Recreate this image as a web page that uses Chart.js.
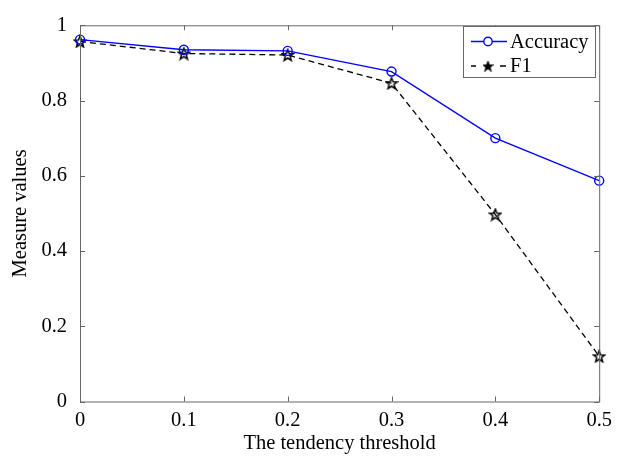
<!DOCTYPE html>
<html>
<head>
<meta charset="utf-8">
<script src="https://cdn.jsdelivr.net/npm/chart.js@4"></script>
<style>
  html, body { margin: 0; padding: 0; background: #fff; }
  #wrap { width: 619px; height: 456px; }
</style>
</head>
<body>
<div id="wrap"><canvas id="myChart"></canvas></div>
<script>
'use strict';

const thresholds = [0, 0.1, 0.2, 0.3, 0.4, 0.5];
const accuracy = [0.962, 0.935, 0.932, 0.877, 0.700, 0.587];
const f1 = [0.957, 0.925, 0.921, 0.846, 0.497, 0.120];
const xTicks = [0, 0.1, 0.2, 0.3, 0.4, 0.5];
const yTicks = [0, 0.2, 0.4, 0.6, 0.8, 1];

const FONT = '"Liberation Serif", "Times New Roman", serif';
const FONT_SIZE = 20.5;
const AXIS_COLOR = '#666';

// pentagram marker, outlined or filled
const makeStar = (size, filled) => {
  const c = document.createElement('canvas');
  c.width = size; c.height = size;
  const g = c.getContext('2d');
  const cx = size / 2, cy = size / 2 + 0.5;
  const R = size / 2 - 1, r = R * 0.42;
  g.beginPath();
  for (let i = 0; i < 10; i++) {
    const rad = i % 2 === 0 ? R : r;
    const a = -Math.PI / 2 + i * Math.PI / 5;
    const px = cx + rad * Math.cos(a), py = cy + rad * Math.sin(a);
    if (i === 0) g.moveTo(px, py); else g.lineTo(px, py);
  }
  g.closePath();
  g.lineWidth = 1.5;
  g.strokeStyle = '#000';
  if (filled) { g.fillStyle = '#000'; g.fill(); }
  g.stroke();
  return c;
};
const starMarker = makeStar(14, false);
const starLegend = makeStar(11, true);

const data = {
  datasets: [{
    label: 'Accuracy',
    data: thresholds.map((t, i) => ({ x: t, y: accuracy[i] })),
    borderColor: '#0000ff',
    backgroundColor: 'rgba(0,0,0,0)',
    borderWidth: 1.4,
    pointStyle: 'circle',
    pointRadius: 4.5,
    pointBorderWidth: 1.4,
    pointBorderColor: '#0000ff',
    clip: false
  }, {
    label: 'F1',
    data: thresholds.map((t, i) => ({ x: t, y: f1[i] })),
    borderColor: '#000',
    backgroundColor: 'rgba(0,0,0,0)',
    borderWidth: 1.3,
    borderDash: [6, 4],
    pointStyle: starMarker,
    clip: false
  }]
};

// box frame with inward ticks on all four sides
const frameBox = {
  id: 'frameBox',
  afterDatasetsDraw(chart) {
    const { ctx, chartArea: { top, bottom, left, right }, scales: { x, y } } = chart;
    ctx.save();
    ctx.strokeStyle = AXIS_COLOR;
    ctx.lineWidth = 1;
    ctx.strokeRect(left + 0.5, top + 0.5, right - left, bottom - top);
    const len = 5;
    ctx.beginPath();
    xTicks.forEach(v => {
      const px = Math.round(x.getPixelForValue(v)) + 0.5;
      ctx.moveTo(px, bottom); ctx.lineTo(px, bottom - len);
      ctx.moveTo(px, top); ctx.lineTo(px, top + len);
    });
    yTicks.forEach(v => {
      const py = Math.round(y.getPixelForValue(v)) + 0.5;
      ctx.moveTo(left, py); ctx.lineTo(left + len, py);
      ctx.moveTo(right, py); ctx.lineTo(right - len, py);
    });
    ctx.stroke();
    ctx.restore();
  }
};

// legend box in the upper right corner of the plot
const boxLegend = {
  id: 'boxLegend',
  afterDraw(chart) {
    const { ctx } = chart;
    const bx = 463.5, by = 26.5, bw = 132, bh = 51;
    ctx.save();
    ctx.fillStyle = '#fff';
    ctx.fillRect(bx, by, bw, bh);
    ctx.strokeStyle = AXIS_COLOR;
    ctx.lineWidth = 1;
    ctx.strokeRect(bx, by, bw, bh);

    const rows = [41.5, 66];
    const x0 = 471, x1 = 506, xm = 488;

    // Accuracy row
    ctx.strokeStyle = '#0000ff';
    ctx.lineWidth = 1.4;
    ctx.beginPath();
    ctx.moveTo(x0, rows[0]); ctx.lineTo(x1 + 1, rows[0]);
    ctx.stroke();
    ctx.fillStyle = '#fff';
    ctx.beginPath();
    ctx.arc(xm, rows[0], 4.2, 0, Math.PI * 2);
    ctx.fill(); ctx.stroke();

    // F1 row: dash, star, dash
    ctx.strokeStyle = '#000';
    ctx.lineWidth = 1.3;
    ctx.beginPath();
    ctx.moveTo(x0, rows[1]); ctx.lineTo(x0 + 5, rows[1]);
    ctx.moveTo(x1 - 6, rows[1]); ctx.lineTo(x1, rows[1]);
    ctx.stroke();
    ctx.drawImage(starLegend, xm - starLegend.width / 2, rows[1] - starLegend.height / 2);

    ctx.fillStyle = '#000';
    ctx.font = FONT_SIZE + 'px ' + FONT;
    ctx.textBaseline = 'middle';
    ctx.textAlign = 'left';
    ctx.fillText(chart.data.datasets[0].label, 510, rows[0] + 1);
    ctx.fillText(chart.data.datasets[1].label, 510, rows[1] + 1);
    ctx.restore();
  }
};

const config = {
  type: 'line',
  data,
  options: {
    responsive: true,
    maintainAspectRatio: false,
    animation: false,
    layout: { padding: { left: 0, right: 17, top: 19, bottom: 0 } },
    plugins: {
      legend: { display: false },
      tooltip: { enabled: false }
    },
    scales: {
      x: {
        type: 'linear',
        min: 0,
        max: 0.5,
        afterBuildTicks: scale => { scale.ticks = xTicks.map(v => ({ value: v })); },
        afterFit: scale => { scale.height = 54.5; },
        grid: { display: false, drawTicks: false },
        border: { display: false },
        ticks: {
          color: '#000',
          padding: 7,
          font: { family: FONT, size: FONT_SIZE },
          callback: v => String(v)
        },
        title: {
          display: true,
          text: 'The tendency threshold',
          color: '#000',
          font: { family: FONT, size: FONT_SIZE },
          padding: { top: 1, bottom: 0 }
        }
      },
      y: {
        min: 0,
        max: 1,
        afterBuildTicks: scale => { scale.ticks = yTicks.map(v => ({ value: v })); },
        afterFit: scale => { scale.width = 80; },
        grid: { display: false, drawTicks: false },
        border: { display: false },
        ticks: {
          color: '#000',
          padding: 13,
          font: { family: FONT, size: FONT_SIZE },
          callback: v => String(v)
        },
        title: {
          display: true,
          text: 'Measure values',
          color: '#000',
          font: { family: FONT, size: FONT_SIZE },
          padding: { top: 8, bottom: 0 }
        }
      }
    }
  },
  plugins: [frameBox, boxLegend]
};

const myChart = new Chart(document.getElementById('myChart'), config);
</script>
</body>
</html>
